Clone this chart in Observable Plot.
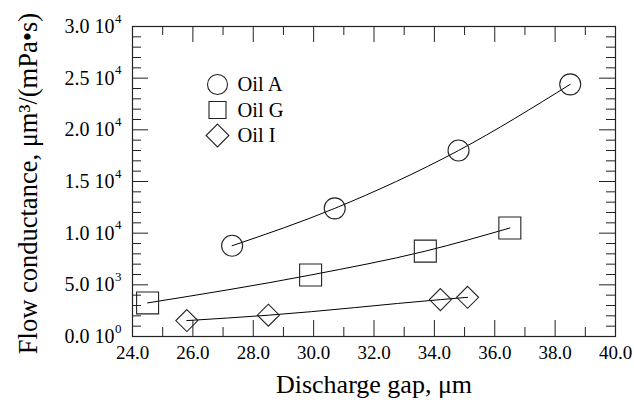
<!DOCTYPE html>
<html>
<head>
<meta charset="utf-8">
<script src="https://cdn.jsdelivr.net/npm/d3@7"></script>
<script src="https://cdn.jsdelivr.net/npm/@observablehq/plot@0.6"></script>
<style>
  html, body { margin: 0; padding: 0; background: #fff; }
</style>
</head>
<body>
<div id="chart"></div>
<script>
// ---- data ----
const oilA_gap = [27.3, 30.7, 34.8, 38.5];
const oilA_cond = [8780, 12400, 18000, 24400];
const oilG_gap = [24.5, 29.9, 33.7, 36.5];
const oilG_cond = [3250, 5950, 8260, 10500];
const oilI_gap = [25.8, 28.5, 34.2, 35.1];
const oilI_cond = [1540, 2060, 3570, 3790];

const seriesNames = ["Oil A", "Oil G", "Oil I"];
const seriesSymbols = ["circle", "square", "diamond2"];

const xTicks = [24, 26, 28, 30, 32, 34, 36, 38, 40];
const xTickLabels = ["24.0", "26.0", "28.0", "30.0", "32.0", "34.0", "36.0", "38.0", "40.0"];
const xMinor = [25, 27, 29, 31, 33, 35, 37, 39];
const yTicks = [0, 5000, 10000, 15000, 20000, 25000, 30000];
const yTickMantissa = ["0.0 10", "5.0 10", "1.0 10", "1.5 10", "2.0 10", "2.5 10", "3.0 10"];
const yTickExponent = ["0", "3", "4", "4", "4", "4", "4"];
const yMinor = d3.range(0, 30001, 1000).filter(v => v % 5000 !== 0);

const xLabel = "Discharge gap, μm";
const yLabel = "Flow conductance, μm³/(mPa•s)";

// ---- build tables ----
const toRows = (xs, ys) => xs.map((x, i) => ({x, y: ys[i]}));
const seriesRows = [toRows(oilA_gap, oilA_cond), toRows(oilG_gap, oilG_cond), toRows(oilI_gap, oilI_cond)];

const W = 634, H = 403;
const mL = 132, mR = 19, mT = 26, mB = 67;
const pw = W - mL - mR, ph = H - mT - mB;
const font = "Liberation Serif, Times New Roman, serif";
const ink = "#222";

const markerR = [10.5, 12.4, 9.9];
const legendR = [10, 9.6, 10.3];

const marks = [];
// tick marks, drawn inward on all four sides
const majLen = 16, minLen = 9;
marks.push(Plot.tickY(yTicks, {y: d => d, insetRight: pw - majLen, stroke: ink}));
marks.push(Plot.tickY(yMinor, {y: d => d, insetRight: pw - minLen, stroke: ink}));
marks.push(Plot.tickY(yTicks, {y: d => d, insetLeft: pw - majLen, stroke: ink}));
marks.push(Plot.tickY(yMinor, {y: d => d, insetLeft: pw - minLen, stroke: ink}));
marks.push(Plot.tickX(xTicks, {x: d => d, insetTop: ph - majLen, stroke: ink}));
marks.push(Plot.tickX(xMinor, {x: d => d, insetTop: ph - minLen, stroke: ink}));
marks.push(Plot.tickX(xTicks, {x: d => d, insetBottom: ph - majLen, stroke: ink}));
marks.push(Plot.tickX(xMinor, {x: d => d, insetBottom: ph - minLen, stroke: ink}));
marks.push(Plot.frame({stroke: ink, strokeWidth: 1.2}));

// series
seriesRows.forEach((rows, i) => {
  marks.push(Plot.line(rows, {x: "x", y: "y", curve: "monotone-x", stroke: "#000", strokeWidth: 1}));
  marks.push(Plot.dot(rows, {x: "x", y: "y", symbol: seriesSymbols[i], r: markerR[i], stroke: ink, strokeWidth: 1.1, fill: "none"}));
});

// legend
seriesNames.forEach((name, i) => {
  marks.push(Plot.dot([name], {frameAnchor: "top-left", dx: 85, dy: 58 + i * 25.5, symbol: seriesSymbols[i], r: legendR[i], stroke: ink, strokeWidth: 1.1, fill: "none"}));
  marks.push(Plot.text([name], {frameAnchor: "top-left", dx: 105, dy: 58 + i * 25.5, text: d => d, textAnchor: "start", lineAnchor: "middle", fontSize: 20.5, fontFamily: font, fill: "#000"}));
});

// y tick labels with superscript exponents
marks.push(Plot.text(yTicks, {y: d => d, text: (d, i) => yTickMantissa[i], frameAnchor: "left", textAnchor: "end", lineAnchor: "middle", dx: -18, fontSize: 20, fontFamily: font, fill: "#000"}));
marks.push(Plot.text(yTicks, {y: d => d, text: (d, i) => yTickExponent[i], frameAnchor: "left", textAnchor: "start", lineAnchor: "middle", dx: -17.5, dy: -8, fontSize: 13, fontFamily: font, fill: "#000"}));
// x tick labels
marks.push(Plot.text(xTicks, {x: d => d, text: (d, i) => xTickLabels[i], frameAnchor: "bottom", textAnchor: "middle", lineAnchor: "middle", dy: 16, fontSize: 19, fontFamily: font, fill: "#000"}));
// axis titles
marks.push(Plot.text([xLabel], {frameAnchor: "bottom", text: d => d, textAnchor: "middle", lineAnchor: "middle", dy: 48, fontSize: 26, fontFamily: font, fill: "#000"}));
marks.push(Plot.text([yLabel], {frameAnchor: "left", text: d => d, textAnchor: "middle", lineAnchor: "middle", rotate: -90, dx: -104, dy: 2, fontSize: 26.5, fontFamily: font, fill: "#000"}));

const chart = Plot.plot({
  width: W, height: H,
  marginLeft: mL, marginRight: mR, marginTop: mT, marginBottom: mB,
  x: {domain: [24, 40], axis: null},
  y: {domain: [0, 30000], axis: null},
  style: {fontFamily: font, background: "#fff", color: "#000", overflow: "visible"},
  marks
});
document.getElementById("chart").appendChild(chart);
</script>
</body>
</html>
